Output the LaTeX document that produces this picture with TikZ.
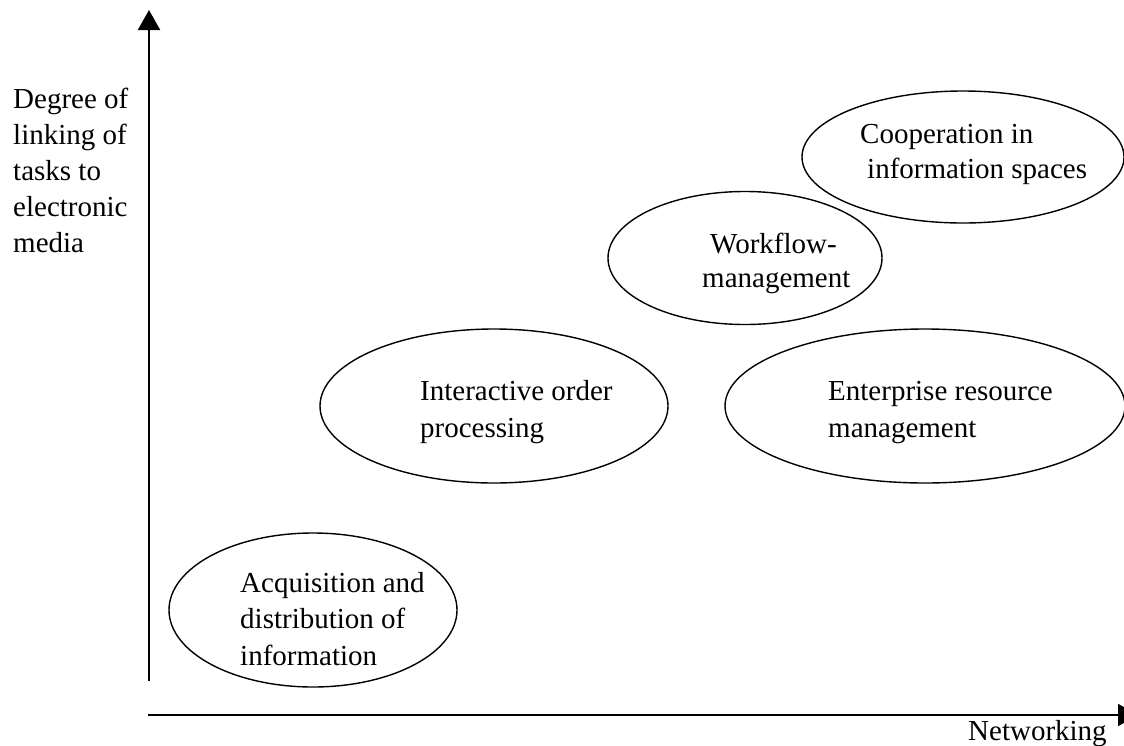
\documentclass[tikz,border=0pt]{standalone}
\usepackage{fontspec}
\setmainfont{Liberation Serif}
\usetikzlibrary{shapes.geometric,arrows.meta}
\begin{document}
\begin{tikzpicture}[x=1pt,y=-1pt,
  bubble/.style={draw,ellipse,line width=1.4pt,inner sep=0pt},
  lbl/.style={anchor=base west,inner sep=0pt,font=\fontsize{29}{35}\selectfont},
  axis/.style={line width=2pt,-{Triangle[width=22pt,length=20pt]}}]
\useasboundingbox (0,0) rectangle (1124,745);
% axes
\coordinate (yb) at (149,681);
\coordinate (yt) at (149,10);
\coordinate (xl) at (148,715);
\coordinate (xr) at (1138,715);
\draw[axis] (yb) -- (yt);
\draw[axis] (xl) -- (xr);
% ellipses
\node[bubble,minimum width=288pt,minimum height=154pt] (acq) at (313,610) {};
\node[bubble,minimum width=348pt,minimum height=154pt] (iop) at (494,406) {};
\node[bubble,minimum width=400pt,minimum height=154pt] (erm) at (925,406) {};
\node[bubble,minimum width=274pt,minimum height=133pt] (wfm) at (745,258) {};
\node[bubble,minimum width=322pt,minimum height=132pt] (coop) at (963,157) {};
% y-axis label
\node[lbl] (y1) at (13,108) {Degree of};
\node[lbl] (y2) at (13,144) {linking of};
\node[lbl] (y3) at (13,180) {tasks to};
\node[lbl] (y4) at (13,216) {electronic};
\node[lbl] (y5) at (13,252) {media};
% x-axis label
\node[lbl] (xlab) at (968,740) {Networking};
% ellipse texts
\node[lbl] (a1) at (240,592) {Acquisition and};
\node[lbl] (a2) at (240,628) {distribution of};
\node[lbl] (a3) at (240,665) {information};
\node[lbl] (i1) at (420,400) {Interactive order};
\node[lbl] (i2) at (420,437) {processing};
\node[lbl] (e1) at (828,400) {Enterprise resource};
\node[lbl] (e2) at (828,437) {management};
\node[lbl] (w1) at (710,253) {Workflow-};
\node[lbl] (w2) at (702,287) {management};
\node[lbl] (c1) at (860,143) {Cooperation in};
\node[lbl] (c2) at (867,178) {information spaces};
\end{tikzpicture}
\end{document}
